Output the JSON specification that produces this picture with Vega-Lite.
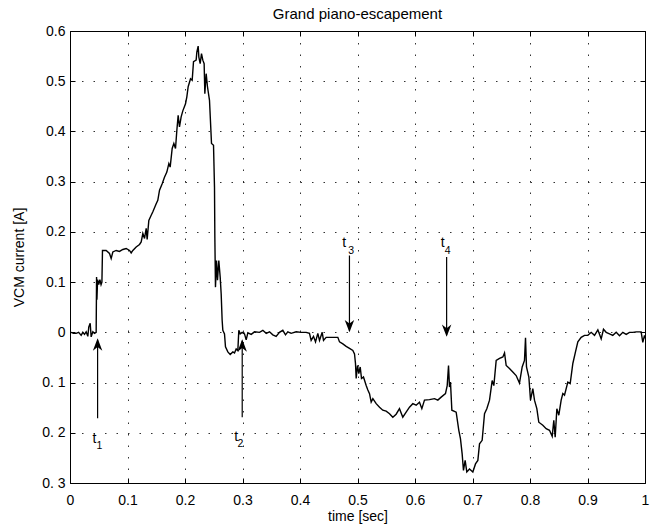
{
  "$schema": "https://vega.github.io/schema/vega-lite/v6.json",
  "width": 575,
  "height": 452,
  "autosize": {"type": "none"},
  "padding": {"left": 70, "top": 31, "right": 9, "bottom": 42},
  "config": {
    "font": "Liberation Sans",
    "view": {"stroke": "#000", "strokeWidth": 1},
    "axis": {"labelFont": "Liberation Sans", "titleFont": "Liberation Sans", "labelColor": "#000", "titleColor": "#000", "tickColor": "#000", "domain": false, "titleFontWeight": "normal", "labelFontSize": 14, "titleFontSize": 14}
  },
  "title": {"text": "Grand piano-escapement", "font": "Liberation Sans", "fontSize": 15, "fontWeight": "normal", "color": "#000", "baseline": "alphabetic", "offset": -10},
  "datasets": {
    "curve": [
      {"x":0,"y":0},{"x":0.002,"y":0},{"x":0.006,"y":-0.002},{"x":0.0107,"y":-0.002},{"x":0.015,"y":0.0},{"x":0.0194,"y":-0.006},{"x":0.0223,"y":0},{"x":0.0252,"y":-0.004},{"x":0.0281,"y":0.001},{"x":0.031,"y":-0.008},{"x":0.0327,"y":0.011},{"x":0.0351,"y":0.018},{"x":0.0368,"y":-0.009},{"x":0.0397,"y":0.001},{"x":0.0426,"y":-0.002},{"x":0.0455,"y":0},
      {"x":0.0462,"y":0.11},{"x":0.0468,"y":0.065},{"x":0.048,"y":0.105},{"x":0.05,"y":0.095},{"x":0.052,"y":0.105},{"x":0.054,"y":0.095},{"x":0.0555,"y":0.1},{"x":0.0565,"y":0.163},
      {"x":0.0571,"y":0.163},{"x":0.0629,"y":0.163},{"x":0.0687,"y":0.157},{"x":0.0716,"y":0.147},{"x":0.0745,"y":0.16},{"x":0.0803,"y":0.163},{"x":0.086,"y":0.161},{"x":0.0919,"y":0.165},{"x":0.0977,"y":0.167},{"x":0.1035,"y":0.163},{"x":0.1064,"y":0.158},{"x":0.1093,"y":0.163},{"x":0.1151,"y":0.17},{"x":0.1209,"y":0.175},{"x":0.1238,"y":0.18},{"x":0.1267,"y":0.197},{"x":0.1296,"y":0.187},{"x":0.1325,"y":0.207},{"x":0.1342,"y":0.185},{"x":0.1371,"y":0.223},{"x":0.1412,"y":0.233},{"x":0.1441,"y":0.24},{"x":0.1499,"y":0.256},{"x":0.1527,"y":0.263},{"x":0.1557,"y":0.283},{"x":0.1603,"y":0.296},{"x":0.1643,"y":0.309},{"x":0.1684,"y":0.319},{"x":0.1719,"y":0.336},{"x":0.1742,"y":0.329},{"x":0.1777,"y":0.366},{"x":0.1806,"y":0.376},{"x":0.1835,"y":0.366},{"x":0.1858,"y":0.402},{"x":0.1881,"y":0.432},{"x":0.1904,"y":0.409},{"x":0.1933,"y":0.429},{"x":0.1962,"y":0.441},{"x":0.2009,"y":0.455},{"x":0.2032,"y":0.469},{"x":0.2055,"y":0.489},{"x":0.2096,"y":0.505},{"x":0.2125,"y":0.502},{"x":0.2148,"y":0.539},{"x":0.2194,"y":0.542},{"x":0.2206,"y":0.558},{"x":0.2229,"y":0.57},{"x":0.2241,"y":0.548},{"x":0.2264,"y":0.535},{"x":0.2287,"y":0.555},{"x":0.231,"y":0.542},{"x":0.2333,"y":0.535},{"x":0.2345,"y":0.475},{"x":0.2368,"y":0.515},{"x":0.2391,"y":0.489},{"x":0.2426,"y":0.462},{"x":0.2461,"y":0.376},{"x":0.2496,"y":0.3725},{"x":0.2513,"y":0.289},{"x":0.2519,"y":0.19},{"x":0.253,"y":0.09},{"x":0.2548,"y":0.143},{"x":0.2565,"y":0.104},{"x":0.2588,"y":0.143},{"x":0.2612,"y":0.11},{"x":0.2629,"y":0.077},{"x":0.2646,"y":0.024},
      {"x":0.2658,"y":0.004},{"x":0.2687,"y":-0.003},{"x":0.2704,"y":-0.029},{"x":0.2745,"y":-0.039},{"x":0.2786,"y":-0.044},{"x":0.2832,"y":-0.039},{"x":0.2861,"y":-0.041},{"x":0.289,"y":-0.033},{"x":0.2919,"y":-0.036},{"x":0.2936,"y":0.004},{"x":0.296,"y":-0.003},{"x":0.2994,"y":0.0},{"x":0.3035,"y":-0.003},{"x":0.3064,"y":-0.015},{"x":0.3093,"y":-0.001},{"x":0.3151,"y":-0.004},{"x":0.3209,"y":0.001},{"x":0.3296,"y":0},{"x":0.3354,"y":0.004},{"x":0.3412,"y":-0.002},{"x":0.347,"y":0.001},{"x":0.3527,"y":-0.005},{"x":0.3585,"y":-0.008},{"x":0.3643,"y":0},{"x":0.3701,"y":0.004},{"x":0.3748,"y":-0.005},{"x":0.3788,"y":0.001},{"x":0.3846,"y":-0.002},{"x":0.3933,"y":0.001},{"x":0.402,"y":0},{"x":0.4107,"y":0},{"x":0.4165,"y":-0.002},{"x":0.4194,"y":-0.016},{"x":0.4235,"y":-0.008},{"x":0.427,"y":-0.019},{"x":0.431,"y":-0.002},{"x":0.4339,"y":-0.016},{"x":0.4386,"y":0},{"x":0.4409,"y":-0.016},{"x":0.4455,"y":-0.01},{"x":0.4542,"y":-0.01},{"x":0.4658,"y":-0.01},{"x":0.4687,"y":-0.019},{"x":0.4745,"y":-0.023},{"x":0.4803,"y":-0.028},{"x":0.4861,"y":-0.032},{"x":0.4919,"y":-0.036},{"x":0.4948,"y":-0.043},{"x":0.4965,"y":-0.062},{"x":0.4977,"y":-0.092},{"x":0.5,"y":-0.066},{"x":0.5023,"y":-0.082},{"x":0.5047,"y":-0.069},{"x":0.507,"y":-0.092},{"x":0.5104,"y":-0.089},{"x":0.5151,"y":-0.106},{"x":0.518,"y":-0.115},{"x":0.5209,"y":-0.122},{"x":0.5238,"y":-0.139},{"x":0.5267,"y":-0.132},{"x":0.5325,"y":-0.142},{"x":0.5383,"y":-0.149},{"x":0.544,"y":-0.155},{"x":0.5498,"y":-0.157},{"x":0.5557,"y":-0.162},{"x":0.5614,"y":-0.169},{"x":0.5672,"y":-0.163},{"x":0.573,"y":-0.152},
      {"x":0.5788,"y":-0.169},{"x":0.5846,"y":-0.159},{"x":0.5904,"y":-0.149},{"x":0.5962,"y":-0.142},{"x":0.602,"y":-0.145},{"x":0.6078,"y":-0.139},{"x":0.6119,"y":-0.152},{"x":0.6165,"y":-0.135},{"x":0.6252,"y":-0.134},{"x":0.6339,"y":-0.132},{"x":0.6397,"y":-0.135},{"x":0.6455,"y":-0.129},{"x":0.653,"y":-0.122},{"x":0.656,"y":-0.106},{"x":0.6583,"y":-0.066},{"x":0.66,"y":-0.109},{"x":0.6617,"y":-0.099},{"x":0.6641,"y":-0.155},{"x":0.6716,"y":-0.159},{"x":0.6762,"y":-0.195},{"x":0.6791,"y":-0.212},{"x":0.682,"y":-0.242},{"x":0.6843,"y":-0.275},{"x":0.6872,"y":-0.255},{"x":0.6901,"y":-0.278},{"x":0.6948,"y":-0.272},{"x":0.7006,"y":-0.278},{"x":0.7052,"y":-0.262},{"x":0.7093,"y":-0.255},{"x":0.7122,"y":-0.222},{"x":0.7168,"y":-0.215},{"x":0.7209,"y":-0.162},{"x":0.7249,"y":-0.152},{"x":0.7296,"y":-0.135},{"x":0.7342,"y":-0.096},{"x":0.7371,"y":-0.106},{"x":0.7412,"y":-0.056},{"x":0.747,"y":-0.052},{"x":0.7528,"y":-0.049},{"x":0.7557,"y":-0.041},{"x":0.7586,"y":-0.066},{"x":0.7643,"y":-0.072},{"x":0.7701,"y":-0.079},{"x":0.7759,"y":-0.086},{"x":0.7817,"y":-0.101},{"x":0.7864,"y":-0.069},{"x":0.7904,"y":-0.056},{"x":0.7922,"y":-0.011},{"x":0.7939,"y":-0.069},{"x":0.798,"y":-0.089},{"x":0.8009,"y":-0.135},{"x":0.8049,"y":-0.112},{"x":0.8078,"y":-0.135},{"x":0.8119,"y":-0.152},{"x":0.8153,"y":-0.179},{"x":0.8223,"y":-0.185},{"x":0.8281,"y":-0.192},{"x":0.8339,"y":-0.195},{"x":0.8386,"y":-0.207},{"x":0.8414,"y":-0.175},{"x":0.8438,"y":-0.209},{"x":0.8467,"y":-0.152},{"x":0.8501,"y":-0.165},{"x":0.8542,"y":-0.135},{"x":0.8571,"y":-0.122},{"x":0.86,"y":-0.125},{"x":0.8658,"y":-0.099},{"x":0.8699,"y":-0.102},{"x":0.8745,"y":-0.062},{"x":0.8791,"y":-0.039},{"x":0.8832,"y":-0.019},{"x":0.889,"y":-0.01},{"x":0.8948,"y":-0.006},{"x":0.9006,"y":-0.006},{"x":0.9064,"y":0},{"x":0.9122,"y":-0.006},{"x":0.918,"y":0.005},{"x":0.9238,"y":-0.013},{"x":0.9278,"y":0.006},{"x":0.9325,"y":0},{"x":0.9383,"y":-0.003},{"x":0.944,"y":-0.006},{"x":0.9499,"y":0},{"x":0.9557,"y":-0.007},{"x":0.9614,"y":0},{"x":0.9673,"y":-0.004},{"x":0.973,"y":0},{"x":0.9788,"y":0},{"x":0.9846,"y":0.001},{"x":0.9933,"y":0.001},{"x":0.9962,"y":-0.02},{"x":0.9991,"y":-0.006},{"x":1.0,"y":-0.012}
    ],
    "arrows": [
      {"x":0.048,"y":-0.171,"y2":-0.015,"tip":-0.012,"dir":"up"},
      {"x":0.2995,"y":-0.169,"y2":-0.017,"tip":-0.014,"dir":"up"},
      {"x":0.486,"y":0.153,"y2":0.003,"tip":0.0,"dir":"down"},
      {"x":0.655,"y":0.15,"y2":-0.006,"tip":-0.009,"dir":"down"}
    ],
    "labels": [
      {"x":0.0426,"y":-0.212,"t":"t","sx":0.0513,"sy":-0.226,"s":"1"},
      {"x":0.289,"y":-0.2085,"t":"t","sx":0.2965,"sy":-0.223,"s":"2"},
      {"x":0.477,"y":0.177,"t":"t","sx":0.489,"sy":0.162,"s":"3"},
      {"x":0.648,"y":0.177,"t":"t","sx":0.657,"sy":0.161,"s":"4"}
    ]
  },
  "resolve": {"axis": {"x": "independent", "y": "independent"}},
  "layer": [
    {
      "data": {"name": "curve"},
      "mark": {"type": "line", "color": "#000", "strokeWidth": 1.4, "interpolate": "linear"},
      "encoding": {
        "x": {"field": "x", "type": "quantitative", "scale": {"domain": [0, 1], "nice": false, "zero": false},
          "axis": {"orient": "bottom", "values": [0,0.1,0.2,0.3,0.4,0.5,0.6,0.7,0.8,0.9,1], "labelExpr": "format(datum.value, '.1~f')", "grid": true, "gridColor": "#000", "gridDash": [1.5, 10], "gridOpacity": 0.8, "tickSize": -5, "labelPadding": 15, "title": "time [sec]", "titlePadding": 2, "labelFlush": false}},
        "y": {"field": "y", "type": "quantitative", "scale": {"domain": [-0.3, 0.6], "nice": false, "zero": false},
          "axis": {"orient": "left", "values": [-0.3,-0.2,-0.1,0,0.1,0.2,0.3,0.4,0.5,0.6], "labelExpr": "datum.value < -0.001 ? '0. ' + format(-datum.value*10, 'd') : (abs(datum.value) < 0.001 ? '0' : format(datum.value, '.1f'))", "grid": true, "gridColor": "#000", "gridDash": [1.5, 10], "gridOpacity": 0.8, "tickSize": -5, "labelPadding": 10, "title": "VCM current [A]", "titlePadding": 15, "labelFlush": false}}
      }
    },
    {
      "data": {"name": "arrows"},
      "mark": {"type": "rule", "color": "#000", "strokeWidth": 1.2},
      "encoding": {
        "x": {"field": "x", "type": "quantitative", "scale": {"domain": [0, 1], "nice": false, "zero": false},
          "axis": {"orient": "top", "values": [0,0.1,0.2,0.3,0.4,0.5,0.6,0.7,0.8,0.9,1], "labels": false, "grid": false, "tickSize": -5, "title": null}},
        "y": {"field": "y", "type": "quantitative", "scale": {"domain": [-0.3, 0.6], "nice": false, "zero": false},
          "axis": {"orient": "right", "values": [-0.3,-0.2,-0.1,0,0.1,0.2,0.3,0.4,0.5,0.6], "labels": false, "grid": false, "tickSize": -5, "title": null}},
        "y2": {"field": "y2"}
      }
    },
    {
      "data": {"name": "arrows"},
      "mark": {"type": "point", "filled": true, "color": "#000", "opacity": 1, "size": 620, "strokeWidth": 0},
      "encoding": {
        "x": {"field": "x", "type": "quantitative", "axis": null},
        "y": {"field": "tip", "type": "quantitative", "axis": null},
        "shape": {"field": "dir", "type": "nominal", "legend": null, "scale": {"domain": ["up", "down"], "range": ["M0,0 L0.38,1 L0,0.7 L-0.38,1 Z", "M0,0 L0.38,-1 L0,-0.7 L-0.38,-1 Z"]}}
      }
    },
    {
      "data": {"name": "labels"},
      "mark": {"type": "text", "color": "#000", "fontSize": 14, "font": "Liberation Sans", "align": "center", "baseline": "middle"},
      "encoding": {
        "x": {"field": "x", "type": "quantitative", "axis": null},
        "y": {"field": "y", "type": "quantitative", "axis": null},
        "text": {"field": "t"}
      }
    },
    {
      "data": {"name": "labels"},
      "mark": {"type": "text", "color": "#000", "fontSize": 10.5, "font": "Liberation Sans", "align": "center", "baseline": "middle"},
      "encoding": {
        "x": {"field": "sx", "type": "quantitative", "axis": null},
        "y": {"field": "sy", "type": "quantitative", "axis": null},
        "text": {"field": "s"}
      }
    }
  ]
}
